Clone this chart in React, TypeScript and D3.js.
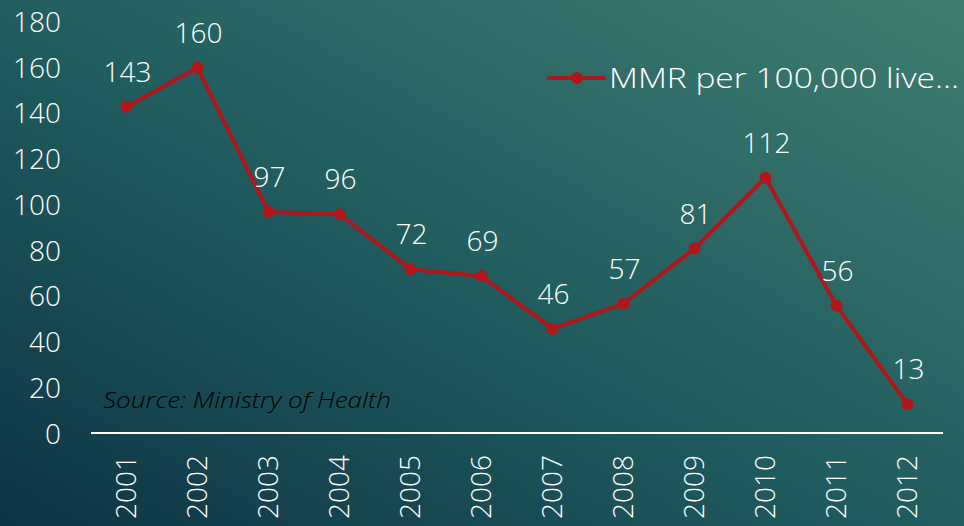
import React from "react";
import * as d3 from "d3";

const years = ["2001", "2002", "2003", "2004", "2005", "2006", "2007", "2008", "2009", "2010", "2011", "2012"];
const mmr = [143, 160, 97, 96, 72, 69, 46, 57, 81, 112, 56, 13];
const yTicks = [0, 20, 40, 60, 80, 100, 120, 140, 160, 180];
const seriesName = "MMR per 100,000 live…";
const sourceNote = "Source: Ministry of Health";

const W = 964;
const H = 526;
const FONT = "'Open Sans', 'DejaVu Sans', sans-serif";
const RED = "#b0161a";
const FS = 28;

export default function App() {
  const x = d3.scaleBand().domain(years).range([91, 943]);
  const y = d3.scaleLinear().domain([0, 180]).range([434, 22]);
  const cx = (yr: string) => (x(yr) as number) + x.bandwidth() / 2;

  const line = d3
    .line<number>()
    .x((d, i) => cx(years[i]))
    .y(d => y(d));

  return (
    <div style={{ position: "fixed", left: 0, top: 0 }}>
      <svg width={W} height={H} style={{ display: "block" }}>
        <defs>
          <linearGradient id="bg" x1="0" y1="1" x2="1" y2="0">
            <stop offset="0%" stopColor="#0d3444" />
            <stop offset="45%" stopColor="#1f5a5e" />
            <stop offset="100%" stopColor="#3f7d71" />
          </linearGradient>
        </defs>
        <rect width={W} height={H} fill="url(#bg)" />

        {/* y axis labels */}
        {yTicks.map(t => (
          <text
            key={t}
            x={61}
            y={y(t)}
            dy="0.35em"
            textAnchor="end"
            fill="#fff"
            fontFamily={FONT}
            fontSize={FS}
            fontWeight={300}
          >
            {t}
          </text>
        ))}

        {/* x axis */}
        <line x1={91} x2={943} y1={433} y2={433} stroke="#fff" strokeWidth={2} />
        {years.map(yr => (
          <text
            key={yr}
            transform={`translate(${cx(yr)},455) rotate(-90)`}
            dy="0.35em"
            textAnchor="end"
            fill="#fff"
            fontFamily={FONT}
            fontSize={FS}
            fontWeight={300}
          >
            {yr}
          </text>
        ))}

        {/* series */}
        <path d={line(mmr) || ""} fill="none" stroke={RED} strokeWidth={4} strokeLinejoin="round" />
        {mmr.map((v, i) => (
          <g key={i}>
            <circle cx={cx(years[i])} cy={y(v)} r={6} fill={RED} />
            <text
              x={cx(years[i]) + 1}
              y={y(v) - 25}
              textAnchor="middle"
              fill="#fff"
              fontFamily={FONT}
              fontSize={FS}
              fontWeight={300}
            >
              {v}
            </text>
          </g>
        ))}

        {/* legend */}
        <line x1={549} x2={604} y1={78} y2={78} stroke={RED} strokeWidth={4} strokeLinecap="round" />
        <circle cx={577} cy={78} r={6} fill={RED} />
        <text
          x={609}
          y={78}
          dy="0.35em"
          fill="#fff"
          fontFamily={FONT}
          fontSize={FS}
          fontWeight={300}
          textLength={350}
          lengthAdjust="spacingAndGlyphs"
        >
          {seriesName}
        </text>

        {/* source */}
        <text
          x={103}
          y={408}
          fill="#000"
          fontFamily={FONT}
          fontSize={22}
          fontStyle="italic"
          fontWeight={300}
          textLength={288}
          lengthAdjust="spacingAndGlyphs"
        >
          {sourceNote}
        </text>
      </svg>
    </div>
  );
}
